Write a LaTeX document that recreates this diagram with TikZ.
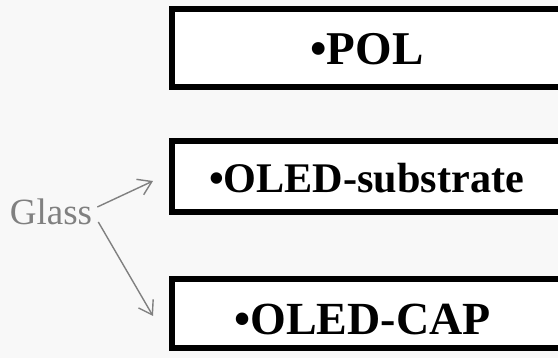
\documentclass[tikz,border=0pt]{standalone}
\usepackage{fontspec}
\setmainfont{Liberation Serif}
\usetikzlibrary{arrows.meta}
\definecolor{bg}{HTML}{F8F8F8}
\definecolor{glassgray}{HTML}{808080}
\begin{document}
\begin{tikzpicture}[x=1pt,y=-1pt,
  layerbox/.style={draw=black, fill=white, line width=6pt, minimum width=390pt, inner sep=0pt},
  layertext/.style={inner sep=0pt, font=\bfseries\fontsize{#1}{#1}\selectfont},
  glassarrow/.style={draw=glassgray, line width=1.4pt, -{Straight Barb[length=13pt,width=17pt,line width=1.4pt]}}]
\useasboundingbox (0,0) rectangle (558,358);
\clip (0,0) rectangle (558,358);
\fill[bg] (0,0) rectangle (558,358);
\node[layerbox, minimum height=77.5pt] (pol) at (367,48.25) {};
\node[layerbox, minimum height=71pt] (sub) at (367,176.5) {};
\node[layerbox, minimum height=69pt] (cap) at (367,313.5) {};
\node[layertext=47] (poltext) at (367,49.5) {•POL};
\node[layertext=42.2] (subtext) at (366.5,178) {•OLED-substrate};
\node[layertext=46] (captext) at (362.5,319) {•OLED-CAP};
\node[text=glassgray, font=\fontsize{37}{40}\selectfont, inner sep=0pt] (glass) at (51,211.5) {Glass};
\draw[glassarrow] ([xshift=5pt,yshift=4.5pt]glass.east) -- ([xshift=-16pt,yshift=-4.5pt]sub.west);
\draw[glassarrow] ([xshift=6pt,yshift=-10.5pt]glass.east) -- ([xshift=-16pt,yshift=-2.5pt]cap.west);
\end{tikzpicture}
\end{document}
